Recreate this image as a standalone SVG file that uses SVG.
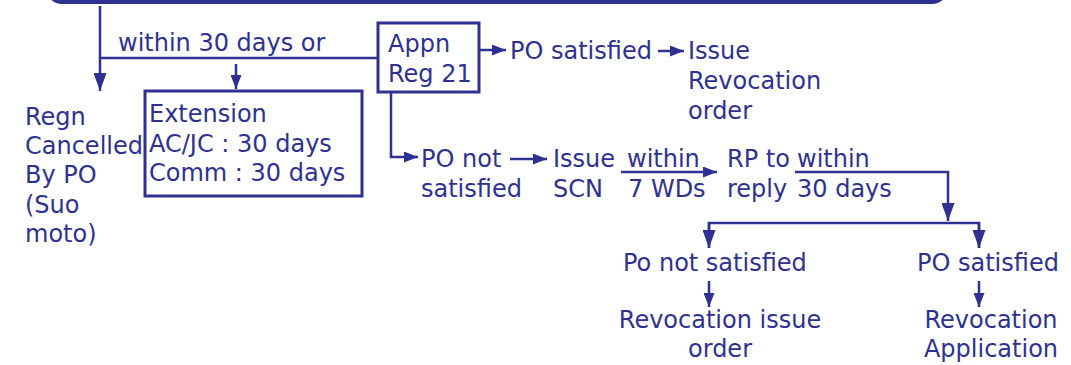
<svg xmlns="http://www.w3.org/2000/svg" width="1071" height="365" viewBox="0 0 1071 365">
<style>
text{font-family:"DejaVu Sans","Liberation Sans",sans-serif;font-size:24px;fill:#2e3192}
.ln{fill:none;stroke:#2e3192;stroke-width:2.5}
.bx{fill:none;stroke:#2e3192;stroke-width:3}
</style>
<defs>
<marker id="ah" viewBox="0 0 14 11" refX="14" refY="5.5" markerWidth="14" markerHeight="11" orient="auto" markerUnits="userSpaceOnUse"><path d="M0,0L14,5.5L0,11z" fill="#2e3192"/></marker>
<marker id="ahb" viewBox="0 0 18 13" refX="18" refY="6.5" markerWidth="18" markerHeight="13" orient="auto" markerUnits="userSpaceOnUse"><path d="M0,0L18,6.5L0,13z" fill="#2e3192"/></marker>
</defs>
<rect x="46" y="-40" width="902" height="44" rx="16" fill="#2e3192"/>
<g id="connectors">
<path class="ln" d="M100,6V91" marker-end="url(#ahb)"/>
<path class="ln" d="M100,58H378"/>
<path class="ln" d="M236,64V89" marker-end="url(#ah)"/>
<path class="ln" d="M479,50H506" marker-end="url(#ah)"/>
<path class="ln" d="M658,51H684" marker-end="url(#ah)"/>
<path class="ln" d="M391,92V157H418" marker-end="url(#ah)"/>
<path class="ln" d="M510,159H547" marker-end="url(#ah)"/>
<path class="ln" d="M621,172H717" marker-end="url(#ah)"/>
<path class="ln" d="M795,172H948V221" marker-end="url(#ahb)"/>
<path class="ln" d="M709,248V223H979V248"/>
<path class="ln" d="M709,223V248" marker-end="url(#ahb)"/>
<path class="ln" d="M979,223V248" marker-end="url(#ahb)"/>
<path class="ln" d="M709,281V307" marker-end="url(#ah)"/>
<path class="ln" d="M979,281V307" marker-end="url(#ah)"/>
</g>
<g id="lbl-within30"><text x="118" y="51">within 30 days or</text></g>
<g id="regn"><text x="25" y="125">Regn</text><text x="25" y="154">Cancelled</text><text x="25" y="183">By PO</text><text x="25" y="213">(Suo</text><text x="25" y="242">moto)</text></g>
<g id="extension"><rect class="bx" x="145" y="91" width="217" height="105"/><text x="149" y="122">Extension</text><text x="149" y="152">AC/JC : 30 days</text><text x="149" y="181">Comm : 30 days</text></g>
<g id="appn"><rect class="bx" x="378" y="23" width="101" height="69"/><text x="388" y="52">Appn</text><text x="388" y="82">Reg 21</text></g>
<g id="po-sat-top"><text x="510" y="59">PO satisfied</text></g>
<g id="issue-rev"><text x="688" y="59">Issue</text><text x="688" y="89">Revocation</text><text x="688" y="119">order</text></g>
<g id="po-not"><text x="421" y="167">PO not</text><text x="421" y="197">satisfied</text></g>
<g id="scn"><text x="553" y="167">Issue</text><text x="553" y="197">SCN</text></g>
<g id="within7"><text x="627" y="167">within</text><text x="628" y="197">7 WDs</text></g>
<g id="rp"><text x="727" y="167">RP to</text><text x="727" y="197">reply</text></g>
<g id="within30b"><text x="797" y="167">within</text><text x="797" y="197">30 days</text></g>
<g id="po-not2"><text x="623" y="271">Po not satisfied</text></g>
<g id="po-sat2"><text x="917" y="271">PO satisfied</text></g>
<g id="rev-issue"><text x="720" y="328" text-anchor="middle">Revocation issue</text><text x="720" y="357" text-anchor="middle">order</text></g>
<g id="rev-app"><text x="991" y="328" text-anchor="middle">Revocation</text><text x="991" y="357" text-anchor="middle">Application</text></g>
</svg>
